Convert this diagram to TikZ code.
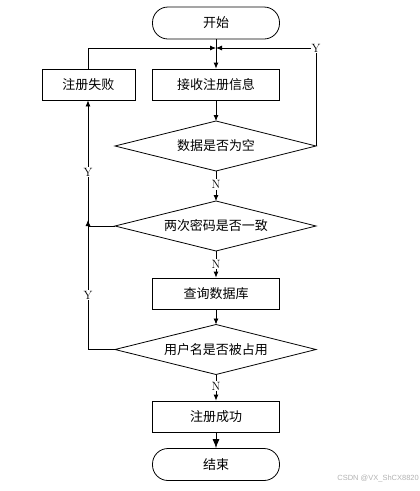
\documentclass[tikz,border=0pt]{standalone}
\usepackage{fontspec}
\newfontfamily\cjk{Noto Sans CJK SC}
\newfontfamily\wm{Liberation Sans}
\usetikzlibrary{arrows.meta}
\begin{document}
\begin{tikzpicture}[x=1pt,y=-1pt,
  every node/.style={inner sep=0pt},
  base/.style={draw,line width=0.8pt,font=\cjk\fontsize{13}{15}\selectfont},
  procbox/.style={base,rectangle,minimum width=127pt,minimum height=31pt},
  termbox/.style={base,rectangle,rounded corners=15.5pt,minimum width=127pt,minimum height=32pt},
  dectext/.style={font=\cjk\fontsize{13}{15}\selectfont},
  conn/.style={line width=0.8pt},
  arr/.style={conn,-{Latex[length=6pt,width=5pt]}},
  bigarr/.style={conn,-{Latex[length=9pt,width=7pt]}},
  lab/.style={fill=white,inner sep=1pt,font=\fontsize{12}{14}\selectfont}]
\useasboundingbox (0,0) rectangle (420,491);
\node[termbox] (start) at (216,23) {开始};
\node[procbox] (recv) at (216,84.5) {接收注册信息};
\node[procbox,minimum width=93pt] (fail) at (88.5,84.5) {注册失败};
% decision diamonds drawn from named corner coordinates
\foreach \nm/\yy in {d1/146,d2/226,d3/349.5}{
  \coordinate (\nm n) at (216,\yy-25);
  \coordinate (\nm s) at (216,\yy+25);
  \coordinate (\nm w) at (115,\yy);
  \coordinate (\nm e) at (316,\yy);
}
\draw[conn] (d1n) -- (d1e) -- (d1s) -- (d1w) -- cycle;
\draw[conn] (d2n) -- (d2e) -- (d2s) -- (d2w) -- cycle;
\draw[conn] (d3n) -- (d3e) -- (d3s) -- (d3w) -- cycle;
\node[dectext] (d1) at (216,146) {数据是否为空};
\node[dectext] (d2) at (216,226) {两次密码是否一致};
\node[dectext] (d3) at (216,349.5) {用户名是否被占用};
\node[procbox] (query) at (216,293.5) {查询数据库};
\node[procbox] (ok) at (216,416.5) {注册成功};
\node[termbox] (end) at (216,464.5) {结束};
\coordinate (top) at (216,48);
\coordinate (jr) at (316,48);
\coordinate (jl) at (88,48);
\coordinate (j2) at (88,226);
\coordinate (j3) at (88,349.5);
\coordinate (j2a) at (88,228);
\coordinate (j2b) at (88,220);
% main spine
\draw[arr] (start) -- (recv);
\draw[arr] (recv) -- (d1n);
\draw[arr] (d1s) -- (d2n) node[lab,pos=0.45] {N};
\draw[arr] (d2s) -- (query.north) node[lab,pos=0.5] {N};
\draw[arr] (query) -- (d3n);
\draw[arr] (d3s) -- (ok.north) node[lab,pos=0.45] {N};
\draw[bigarr] (ok) -- (end);
% Y loop from d1 back to top
\draw[arr] (d1e) -- (jr) node[lab,pos=1] {Y} -- (top);
% fail back to top
\draw[arr] (fail.north -| jl) -- (jl) -- (top);
% left return line
\draw[arr] (d3w) -- (j3) -- (fail.south -| j2);
\draw[conn] (d2w) -- (j2);
\draw[arr] (j2a) -- (j2b);
\node[lab] (y1) at (88,172) {Y};
\node[lab] (y2) at (88,295) {Y};
\node[anchor=east,text=gray!60,font=\wm\fontsize{7.5}{9}\selectfont] (wmk) at (419,479) {CSDN @VX\_ShCX8820};
\end{tikzpicture}
\end{document}
